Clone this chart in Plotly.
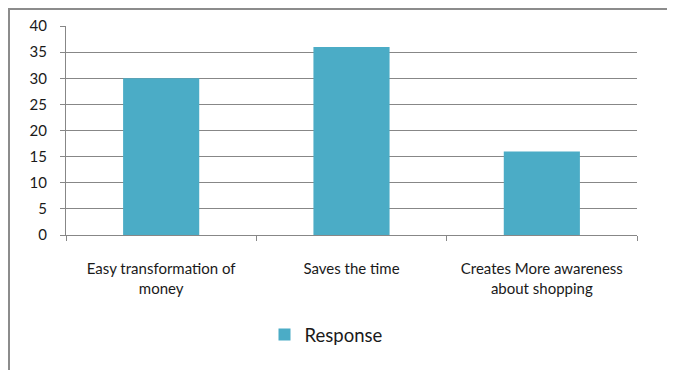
import plotly.graph_objects as go

categories = ["Easy transformation of<br>money", "Saves the time", "Creates More awareness<br>about shopping"]
response = [30, 36, 16]
y_ticks = [0, 5, 10, 15, 20, 25, 30, 35, 40]

# the page body adds an 8px margin around the figure
W, H = 667, 362
L, R, T, B = 58, 38, 18, 135
pw, ph = W - L - R, H - T - B

def px(x):
    return (x - L) / pw

def py(y):
    return (H - B - y) / ph

fig = go.Figure()
fig.add_trace(go.Bar(
    x=categories, y=response, name="Response",
    marker=dict(color="#4bacc6", line=dict(width=0)),
    showlegend=True,
))

shapes = [
    dict(type="rect", xref="paper", yref="paper", x0=px(1), x1=px(665), y0=py(380), y1=py(1),
         fillcolor="rgba(0,0,0,0)", line=dict(color="#8c8c8c", width=2), layer="below"),
]

fig.update_layout(
    width=W, height=H,
    margin=dict(l=L, r=R, t=T, b=B, autoexpand=False),
    paper_bgcolor="white", plot_bgcolor="white",
    font=dict(family="Lato, 'Open Sans', sans-serif", color="#1a1a1a", size=15),
    bargap=0.6,
    shapes=shapes,
    showlegend=True,
    legend=dict(orientation="h", xref="container", yref="container",
                x=318 / W, xanchor="center", y=1 - 327 / H, yanchor="middle",
                font=dict(size=18.5), bgcolor="rgba(0,0,0,0)", itemwidth=30),
    xaxis=dict(showline=True, linecolor="#878787", linewidth=1, automargin=False,
               ticks="outside", tickson="boundaries", ticklen=5, tickcolor="#878787",
               ticklabelstandoff=20, showgrid=False, tickfont=dict(size=15)),
    yaxis=dict(range=[0, 40], tickvals=y_ticks, showline=True, linecolor="#878787", linewidth=1,
               automargin=False, ticks="outside", ticklen=5, tickcolor="#878787",
               showgrid=True, gridcolor="#878787", gridwidth=1,
               ticklabelstandoff=10, tickfont=dict(size=15), zeroline=False),
)

fig.write_html("out.html")
